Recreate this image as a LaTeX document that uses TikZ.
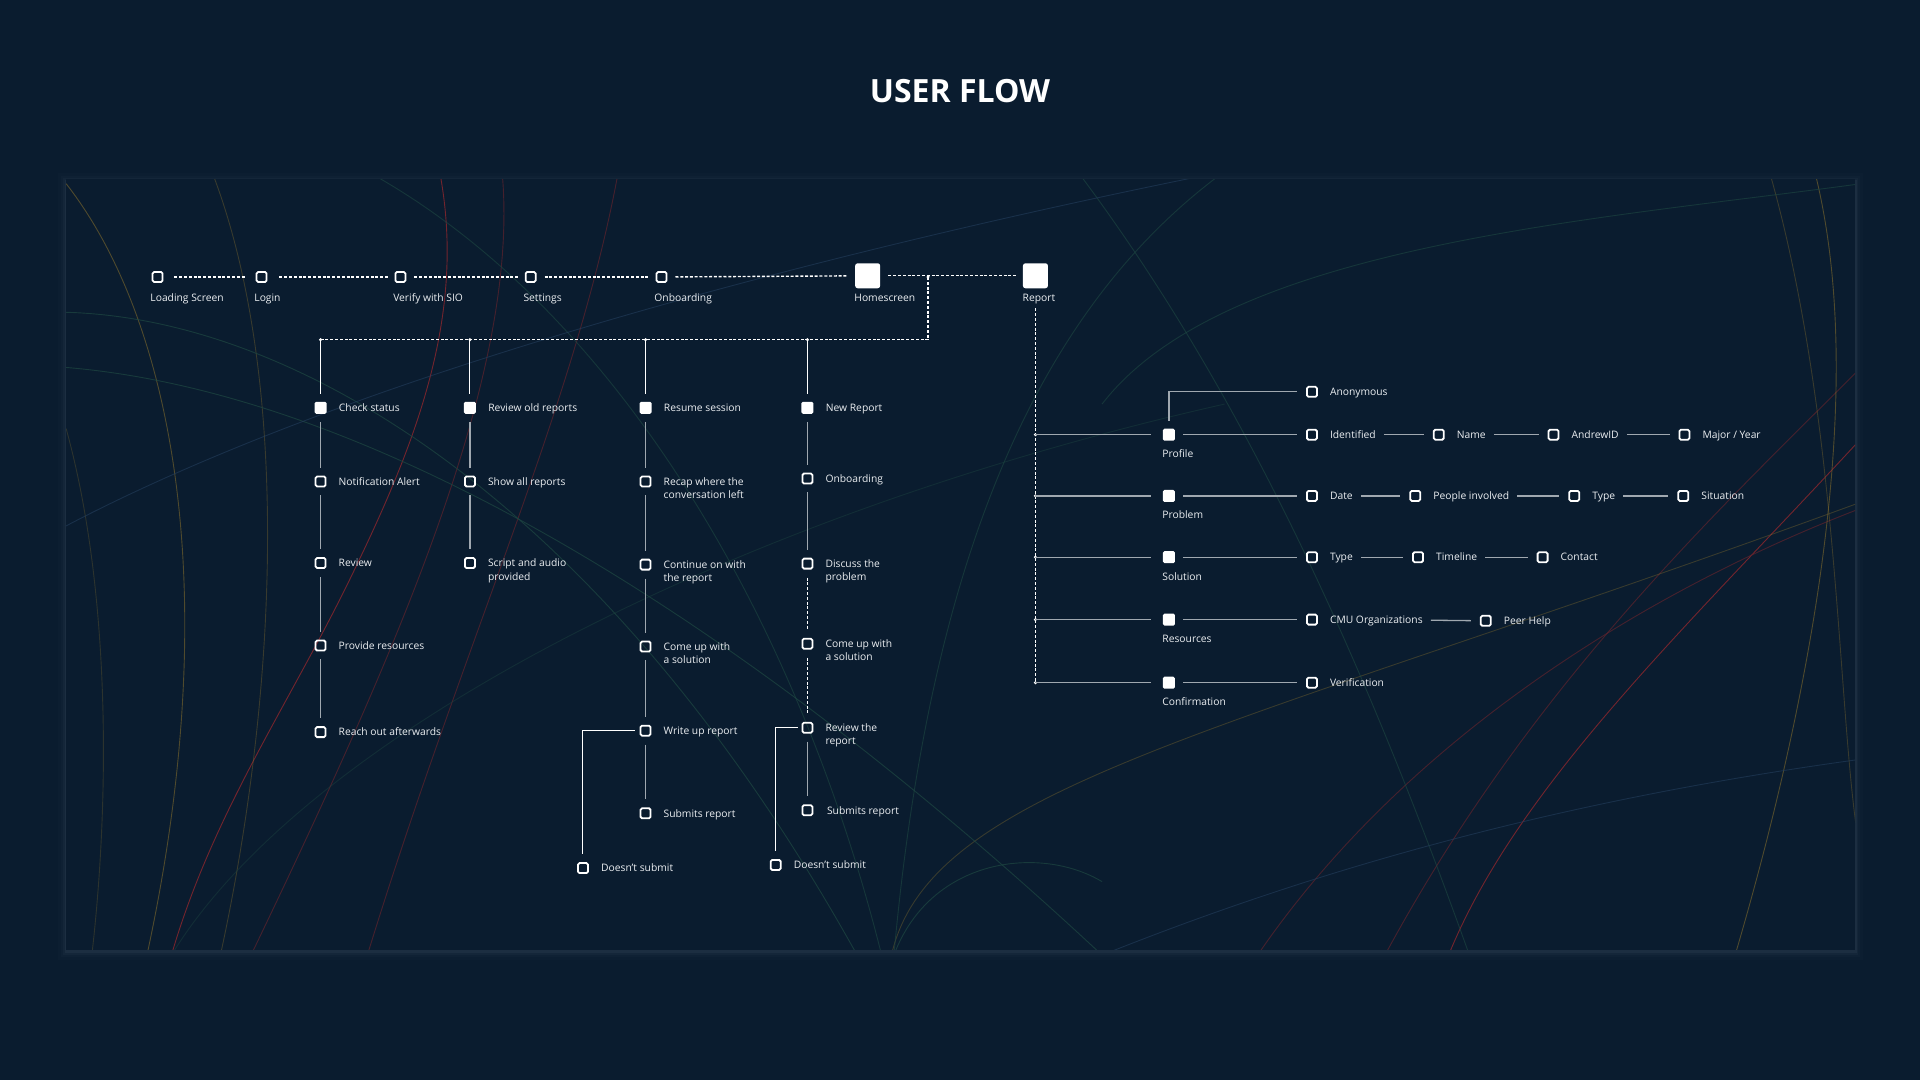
\documentclass[tikz,border=0pt]{standalone}
\usepackage{fontspec}
\setmainfont{Open Sans}
\usepackage{tikz}
\usetikzlibrary{positioning}
\definecolor{bgc}{RGB}{10,28,47}
\definecolor{txtc}{RGB}{236,239,242}
\definecolor{linec}{RGB}{160,168,176}
\definecolor{glowc}{RGB}{70,88,110}
\definecolor{redc}{RGB}{160,40,45}
\definecolor{dredc}{RGB}{95,35,45}
\definecolor{yelc}{RGB}{125,105,45}
\definecolor{grnc}{RGB}{30,72,66}
\definecolor{bluc}{RGB}{35,62,92}
\newcommand{\twolines}[2]{\vtop{\hbox{#1}\hbox{#2}}}

\begin{document}
\begin{tikzpicture}[x=1.2245pt,y=-1.2245pt,
  box/.style={draw=white,line width=1.8pt,rounded corners=1.5pt,minimum size=10pt,inner sep=0pt},
  fbox/.style={fill=white,rounded corners=1.5pt,minimum size=12pt,inner sep=0pt},
  bigbox/.style={fill=white,rounded corners=2.5pt,minimum size=25pt,inner sep=0pt},
  lbl/.style={font=\fontsize{10.3}{13.5}\selectfont,text=txtc,inner sep=0pt,text height=7.5pt,text depth=0pt},
  dline/.style={draw=white,line width=1.4pt,dash pattern=on 3pt off 1.8pt},
  gline/.style={draw=linec,line width=1.3pt},
  wline/.style={draw=white,line width=1pt},
  deco/.style={line width=0.9pt}]

\fill[bgc] (0,0) rectangle (1568,882);
\node[font=\fontsize{32}{40}\selectfont\bfseries,text=white] (title) at (784,74) {USER FLOW};

\begin{scope}[yshift=-2pt]
\foreach \w/\o in {16/0.04,10/0.06,6/0.1,3/0.16}
  \draw[glowc,line width=\w pt,opacity=\o] (53.9,146.2) rectangle (1514.9,775.8);
\end{scope}
\fill[bgc] (53.9,146.2) rectangle (1514.9,775.8);

\begin{scope}
\clip (53.9,146.2) rectangle (1514.9,775.8);
\draw[deco,redc,opacity=0.7] (359,140) .. controls (380,250) and (345,350) .. (292,460) .. controls (240,570) and (175,660) .. (140,780);
\draw[deco,dredc,opacity=0.7] (410,140) .. controls (425,300) and (330,520) .. (205,780);
\draw[deco,dredc,opacity=0.7] (505,140) .. controls (470,330) and (380,520) .. (300,780);
\draw[deco,redc,opacity=0.7] (1183,780) .. controls (1240,640) and (1380,510) .. (1520,358);
\draw[deco,dredc,opacity=0.7] (1131,780) .. controls (1250,560) and (1400,420) .. (1520,300);
\draw[deco,dredc,opacity=0.7] (1027,780) .. controls (1150,600) and (1350,480) .. (1520,415);
\draw[deco,yelc,opacity=0.6] (54,150) .. controls (140,260) and (185,480) .. (120,780);
\draw[deco,yelc,opacity=0.4] (173,140) .. controls (235,300) and (230,550) .. (180,780);
\draw[deco,yelc,opacity=0.3] (54,350) .. controls (90,480) and (90,650) .. (75,780);
\draw[deco,yelc,opacity=0.6] (1482,140) .. controls (1530,330) and (1470,600) .. (1417,780);
\draw[deco,yelc,opacity=0.4] (1445,140) .. controls (1505,350) and (1500,600) .. (1520,700);
\draw[deco,yelc,opacity=0.4] (728,780) .. controls (760,640) and (1000,600) .. (1520,410);
\draw[deco,grnc,opacity=0.7] (53,255) .. controls (250,260) and (500,420) .. (700,780);
\draw[deco,grnc,opacity=0.7] (53,300) .. controls (300,320) and (600,500) .. (900,780);
\draw[deco,grnc,opacity=0.6] (300,140) .. controls (500,250) and (650,500) .. (720,780);
\draw[deco,grnc,opacity=0.7] (730,780) .. controls (760,700) and (850,690) .. (900,720);
\draw[deco,grnc,opacity=0.6] (880,140) .. controls (1000,300) and (1100,500) .. (1200,780);
\draw[deco,grnc,opacity=0.6] (1000,140) .. controls (850,250) and (760,450) .. (730,780);
\draw[deco,grnc,opacity=0.6] (900,330) .. controls (1000,200) and (1300,180) .. (1520,150);
\draw[deco,grnc,opacity=0.4] (140,780) .. controls (250,600) and (600,420) .. (1000,330);
\draw[deco,bluc,opacity=0.6] (53,430) .. controls (300,300) and (700,200) .. (1000,140);
\draw[deco,bluc,opacity=0.6] (900,780) .. controls (1100,700) and (1300,650) .. (1520,620);
\end{scope}

\node[box] (ls) at (128.7,226.2) {};
\node[box] (lg) at (213.6,226.2) {};
\node[box] (vs) at (327,226.2) {};
\node[box] (st) at (433.4,226.2) {};
\node[box] (ob) at (540.3,226.2) {};
\node[bigbox] (hs) at (708.6,225.2) {};
\node[bigbox] (rep) at (845.6,225.2) {};
\node[lbl,anchor=north west] (ls-t) at (122.7,239.6) {Loading Screen};
\node[lbl,anchor=north west] (lg-t) at (207.6,239.6) {Login};
\node[lbl,anchor=north west] (vs-t) at (321,239.6) {Verify with SIO};
\node[lbl,anchor=north west] (st-t) at (427.4,239.6) {Settings};
\node[lbl,anchor=north west] (ob-t) at (534.3,239.6) {Onboarding};
\node[lbl,anchor=north west] (hs-t) at (697.6,239.6) {Homescreen};
\node[lbl,anchor=north west] (rep-t) at (835,239.6) {Report};

\draw[dline,shorten <=11pt,shorten >=10pt] (ls) -- (lg);
\draw[dline,shorten <=12pt,shorten >=7pt] (lg) -- (vs);
\foreach \a/\b in {vs/st,st/ob,ob/hs,hs/rep}
  \draw[dline,shorten <=8pt,shorten >=7pt] (\a) -- (\b);

\node[fbox] (cs) at (261.8,333) {};
\node[box] (na) at (261.8,393.2) {};
\node[box] (rv) at (261.8,459.8) {};
\node[box] (pr) at (261.8,527.2) {};
\node[box] (ro) at (261.8,597.9) {};
\node[lbl,right=12pt of cs] (cs-t) {Check status};
\node[lbl,right=12pt of na] (na-t) {Notification Alert};
\node[lbl,right=12pt of rv] (rv-t) {Review};
\node[lbl,right=12pt of pr] (pr-t) {Provide resources};
\node[lbl,right=12pt of ro] (ro-t) {Reach out afterwards};

\node[fbox] (rop) at (383.8,333) {};
\node[box] (sar) at (383.8,393.2) {};
\node[box] (sap) at (383.8,459.8) {};
\node[lbl,right=12pt of rop] (rop-t) {Review old reports};
\node[lbl,right=12pt of sar] (sar-t) {Show all reports};
\node[lbl,right=12pt of sap] (sap-t) {\twolines{Script and audio}{provided}};

\node[fbox] (rss) at (527.2,333) {};
\node[box] (rc) at (527.2,393.2) {};
\node[box] (co) at (527.2,461.1) {};
\node[box] (cu) at (527.2,528) {};
\node[box] (wr) at (527.2,596.7) {};
\node[box] (sr) at (527.2,664.2) {};
\node[box] (ds) at (476.1,708.9) {};
\node[lbl,right=12pt of rss] (rss-t) {Resume session};
\node[lbl,right=12pt of rc] (rc-t) {\twolines{Recap where the}{conversation left}};
\node[lbl,right=12pt of co] (co-t) {\twolines{Continue on with}{the report}};
\node[lbl,right=12pt of cu] (cu-t) {\twolines{Come up with}{a solution}};
\node[lbl,right=12pt of wr] (wr-t) {Write up report};
\node[lbl,right=12pt of sr] (sr-t) {Submits report};
\node[lbl,right=12pt of ds] (ds-t) {Doesn't submit};

\node[fbox] (nr) at (659.4,333) {};
\node[box] (ob2) at (659.4,390.8) {};
\node[box] (dp) at (659.4,460.3) {};
\node[box] (cu2) at (659.4,525.7) {};
\node[box] (rr) at (659.4,594.3) {};
\node[box] (sr2) at (659.4,661.7) {};
\node[box] (ds2) at (633.5,706.4) {};
\node[lbl,right=12pt of nr] (nr-t) {New Report};
\node[lbl,right=12pt of ob2] (ob2-t) {Onboarding};
\node[lbl,right=12pt of dp] (dp-t) {\twolines{Discuss the}{problem}};
\node[lbl,right=12pt of cu2] (cu2-t) {\twolines{Come up with}{a solution}};
\node[lbl,right=12pt of rr] (rr-t) {\twolines{Review the}{report}};
\node[lbl,right=13.5pt of sr2] (sr2-t) {Submits report};
\node[lbl,right=12pt of ds2] (ds2-t) {Doesn't submit};

\coordinate (hj) at (757.9,226.2);
\coordinate (bar) at (757.9,277.4);
\draw[dline] (hj) -- (bar) -- (cs |- bar);
\fill[white] (hj) circle (1.7pt);
\foreach \n in {cs,rop,rss,nr} {
  \fill[white] (\n |- bar) circle (1.7pt);
  \draw[wline,shorten >=8pt] (\n |- bar) -- (\n);
}
\foreach \a/\b in {cs/na,na/rv,rv/pr,pr/ro,rop/sar,sar/sap,rss/rc,rc/co,co/cu,cu/wr,wr/sr,nr/ob2,ob2/dp,rr/sr2}
  \draw[gline,shorten <=8pt,shorten >=8pt] (\a) -- (\b);
\draw[dline,shorten <=8pt,shorten >=8pt] (dp) -- (cu2);
\draw[dline,shorten <=8pt,shorten >=8pt] (cu2) -- (rr);
\draw[wline,shorten <=5pt,shorten >=8pt] (wr) -| (ds);
\draw[wline,shorten <=4pt,shorten >=8pt] (rr) -| (ds2);

\node[fbox] (prof) at (954.6,355) {};
\node[fbox] (prob) at (954.6,405) {};
\node[fbox] (sol) at (954.6,455) {};
\node[fbox] (res) at (954.6,506) {};
\node[fbox] (conf) at (954.6,557.5) {};
\node[lbl,anchor=north west] (prof-t) at ([xshift=-0.5pt,yshift=-9pt]prof.south west) {Profile};
\node[lbl,anchor=north west] (prob-t) at ([xshift=-0.5pt,yshift=-9pt]prob.south west) {Problem};
\node[lbl,anchor=north west] (sol-t) at ([xshift=-0.5pt,yshift=-9pt]sol.south west) {Solution};
\node[lbl,anchor=north west] (res-t) at ([xshift=-0.5pt,yshift=-9pt]res.south west) {Resources};
\node[lbl,anchor=north west] (conf-t) at ([xshift=-0.5pt,yshift=-9pt]conf.south west) {Confirmation};

\draw[dline] ([yshift=-20pt]rep.south) -- (rep |- conf);
\foreach \n in {prof,prob,sol,res,conf} {
  \fill[white] (rep |- \n) circle (1.7pt);
  \draw[gline,shorten >=12pt] (rep |- \n) -- (\n);
}

\node[box] (anon) at (1071.4,320) {};
\node[box] (ident) at (1071.4,355) {};
\node[box] (name) at (1175,355) {};
\node[box] (aid) at (1268.7,355) {};
\node[box] (major) at (1375.6,355) {};
\node[box] (date) at (1071.4,405) {};
\node[box] (ppl) at (1155.8,405) {};
\node[box] (ptype) at (1285.6,405) {};
\node[box] (sit) at (1374.7,405) {};
\node[box] (stype) at (1071.4,455) {};
\node[box] (tl) at (1158.1,455) {};
\node[box] (cont) at (1259.8,455) {};
\node[box] (cmu) at (1071.4,506) {};
\node[box] (peer) at (1213.4,507) {};
\node[box] (verif) at (1071.4,557.5) {};
\node[lbl,right=12pt of anon] (anon-t) {Anonymous};
\node[lbl,right=12pt of ident] (ident-t) {Identified};
\node[lbl,right=12pt of name] (name-t) {Name};
\node[lbl,right=12pt of aid] (aid-t) {AndrewID};
\node[lbl,right=12pt of major] (major-t) {Major / Year};
\node[lbl,right=12pt of date] (date-t) {Date};
\node[lbl,right=12pt of ppl] (ppl-t) {People involved};
\node[lbl,right=12pt of ptype] (ptype-t) {Type};
\node[lbl,right=12pt of sit] (sit-t) {Situation};
\node[lbl,right=12pt of stype] (stype-t) {Type};
\node[lbl,right=12pt of tl] (tl-t) {Timeline};
\node[lbl,right=12pt of cont] (cont-t) {Contact};
\node[lbl,right=12pt of cmu] (cmu-t) {CMU Organizations};
\node[lbl,right=12pt of peer] (peer-t) {Peer Help};
\node[lbl,right=12pt of verif] (verif-t) {Verification};

\draw[gline,shorten <=8pt,shorten >=9pt] (prof) |- (anon);
\foreach \a/\b in {prof/ident,prob/date,sol/stype,res/cmu,conf/verif}
  \draw[gline,shorten <=8pt,shorten >=9pt] (\a) -- (\b);
\foreach \a/\b in {ident-t/name,name-t/aid,aid-t/major,date-t/ppl,ppl-t/ptype,ptype-t/sit,stype-t/tl,tl-t/cont,cmu-t/peer}
  \draw[gline,shorten <=8pt,shorten >=9pt] (\a) -- (\b);
\end{tikzpicture}
\end{document}
